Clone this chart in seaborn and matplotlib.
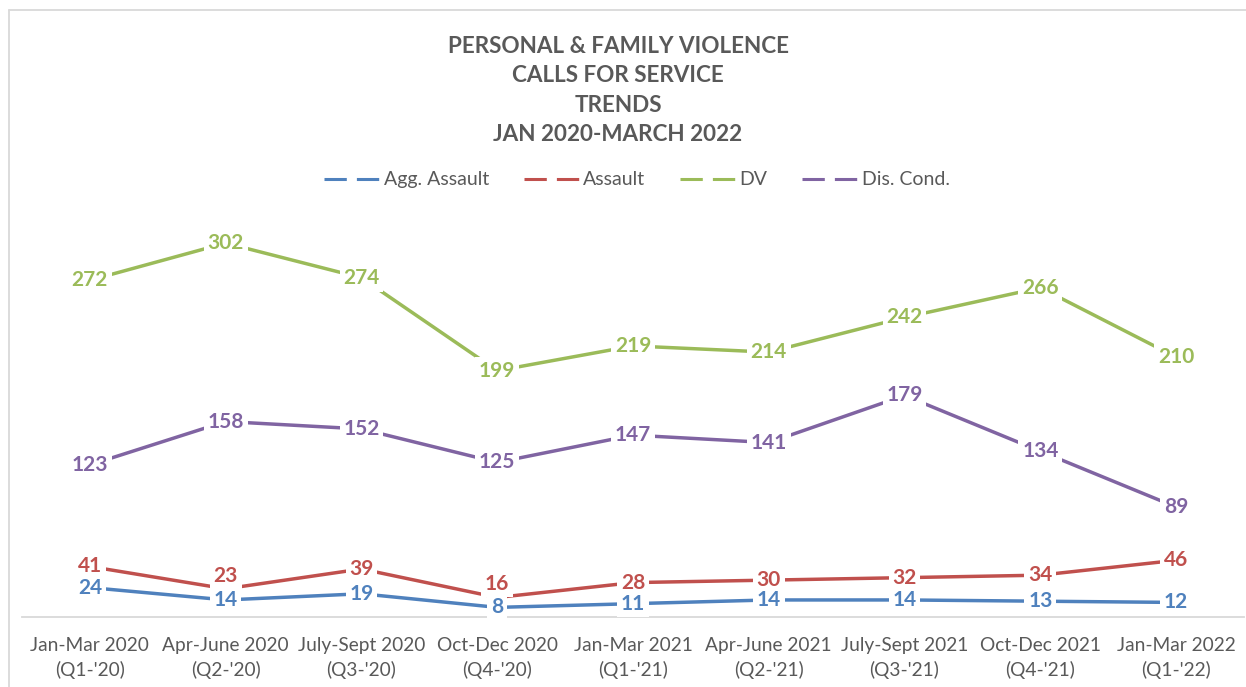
import pandas as pd
import matplotlib.pyplot as plt
import seaborn as sns
from matplotlib.lines import Line2D

# Quarter labels and call counts
quarters = ["Jan-Mar 2020\n(Q1-'20)", "Apr-June 2020\n(Q2-'20)", "July-Sept 2020\n(Q3-'20)",
            "Oct-Dec 2020\n(Q4-'20)", "Jan-Mar 2021\n(Q1-'21)", "Apr-June 2021\n(Q2-'21)",
            "July-Sept 2021\n(Q3-'21)", "Oct-Dec 2021\n(Q4-'21)", "Jan-Mar 2022\n(Q1-'22)"]
agg_assault = [24, 14, 19, 8, 11, 14, 14, 13, 12]
assault = [41, 23, 39, 16, 28, 30, 32, 34, 46]
dv = [272, 302, 274, 199, 219, 214, 242, 266, 210]
dis_cond = [123, 158, 152, 125, 147, 141, 179, 134, 89]

series = {"Agg. Assault": agg_assault, "Assault": assault, "DV": dv, "Dis. Cond.": dis_cond}
colors = {"Agg. Assault": "#4F81BD", "Assault": "#C0504D", "DV": "#9BBB59", "Dis. Cond.": "#8064A2"}

# a couple of labels were pushed up in the original to avoid overlapping (points)
label_nudge = {("Assault", 1): 9, ("Assault", 3): 10}

# Long format for seaborn
rows = []
for name, vals in series.items():
    for i, v in enumerate(vals):
        rows.append({"pos": i, "Type": name, "Calls": v})
df = pd.DataFrame(rows)

sns.set_style("white")
plt.rcParams['font.family'] = ['Lato', 'DejaVu Sans']
text_gray = "#595959"

fig = plt.figure(figsize=(12.46, 6.87), dpi=100)
ax = fig.add_axes([22 / 1246, 1 - 617.3 / 687, 1222 / 1246, 433.7 / 687])

sns.lineplot(data=df, x="pos", y="Calls", hue="Type", palette=colors,
             linewidth=2.5, sort=False, ax=ax, legend=False)

# Data labels sitting on the line with a white box
zorders = {"Agg. Assault": 8, "Assault": 6, "DV": 5, "Dis. Cond.": 5}
for name, vals in series.items():
    for i, v in enumerate(vals):
        dy = label_nudge.get((name, i), 0)
        ax.annotate(str(v), (i, v), xytext=(0, dy), textcoords="offset points",
                    ha="center", va="center", fontsize=15, fontweight="bold",
                    color=colors[name], zorder=zorders[name],
                    bbox=dict(boxstyle="square,pad=0.18", facecolor="white", edgecolor="none"))

ax.set_xlim(-0.5, 8.5)
ax.set_ylim(0, 350)
ax.set_yticks([])
ax.set_xticks(range(len(quarters)))
ax.set_xticklabels(quarters, fontsize=13.8, color=text_gray, linespacing=1.5)
ax.tick_params(axis="x", length=0, pad=14)
ax.set_xlabel("")
ax.set_ylabel("")
for side in ["top", "right", "left"]:
    ax.spines[side].set_visible(False)
ax.spines["bottom"].set_color("#D9D9D9")
ax.spines["bottom"].set_linewidth(1.3)
ax.spines["bottom"].set_zorder(1)

# Legend with dashed sample lines like the original
handles = [Line2D([0], [0], color=colors[n], lw=2.2, linestyle=(0, (7.3, 3.3))) for n in series]
fig.legend(handles, list(series.keys()), loc="center", bbox_to_anchor=(637 / 1246, 1 - 180 / 687),
           ncol=4, frameon=False, fontsize=14, labelcolor=text_gray, handlelength=2.85,
           handletextpad=0.2, columnspacing=1.8)

fig.text(618 / 1246, 1 - 90.5 / 687,
         "PERSONAL & FAMILY VIOLENCE\nCALLS FOR SERVICE\nTRENDS\nJAN 2020-MARCH 2022",
         ha="center", va="center", fontsize=16.2, fontweight="bold", color=text_gray,
         linespacing=1.48)

# Outer chart border (only top and left visible in the crop)
fig.add_artist(Line2D([8.5 / 1246, 8.5 / 1246], [0, 1 - 9.5 / 687], color="#D9D9D9", lw=1.3))
fig.add_artist(Line2D([8.5 / 1246, 1], [1 - 9.5 / 687, 1 - 9.5 / 687], color="#D9D9D9", lw=1.3))

plt.savefig("out.png", dpi=100)
